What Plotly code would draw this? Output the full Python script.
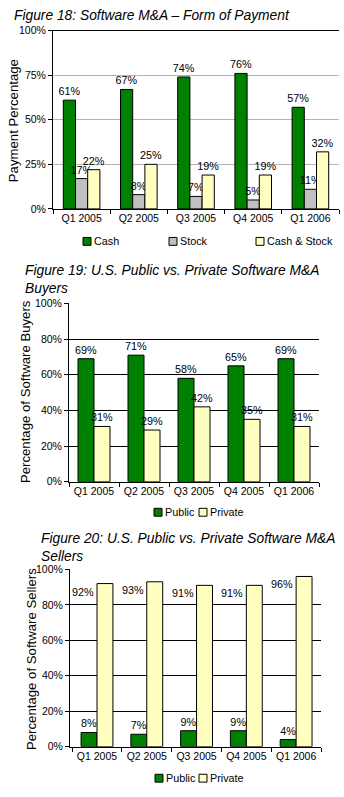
import plotly.graph_objects as go

W, H = 344, 797

# ---- data ----
quarters = ["Q1 2005", "Q2 2005", "Q3 2005", "Q4 2005", "Q1 2006"]

pay_names = ["Cash", "Stock", "Cash & Stock"]
pay_cash = [61, 67, 74, 76, 57]
pay_stock = [17, 8, 7, 5, 11]
pay_mixed = [22, 25, 19, 19, 32]

buy_names = ["Public", "Private"]
buy_public = [69, 71, 58, 65, 69]
buy_private = [31, 29, 42, 35, 31]

sell_names = ["Public", "Private"]
sell_public = [8, 7, 9, 9, 4]
sell_private = [92, 93, 91, 91, 96]

pay_ticks = [0, 25, 50, 75, 100]
share_ticks = [0, 20, 40, 60, 80, 100]

# ---- styles ----
GREEN = "#008000"
GRAY = "#c0c0c0"
YELLOW = "#ffffc0"
FONT = "Liberation Sans, Arial, sans-serif"
TXT = dict(family=FONT, size=10.8, color="black")
TICK = dict(family=FONT, size=10.5, color="black")
AXTITLE = dict(family=FONT, size=13.2, color="black")


def px_x(p):
    return p / W


def px_y(p):
    return 1 - p / H


fig = go.Figure()


def add_bars(values, name, color, xa, ya, text_outside=True):
    fig.add_trace(go.Bar(
        x=quarters, y=values, name=name,
        marker=dict(color=color, line=dict(color="black", width=1)),
        text=[f"{v}%" for v in values] if text_outside else None,
        textposition="outside", constraintext="none", cliponaxis=False,
        textfont=TXT, outsidetextfont=TXT,
        xaxis=xa, yaxis=ya, showlegend=False,
        hoverinfo="x+y+name",
    ))


# Figure 18
add_bars(pay_cash, pay_names[0], GREEN, "x", "y")
add_bars(pay_stock, pay_names[1], GRAY, "x", "y")
add_bars(pay_mixed, pay_names[2], YELLOW, "x", "y")
# Figure 19
add_bars(buy_public, buy_names[0], GREEN, "x2", "y2")
add_bars(buy_private, buy_names[1], YELLOW, "x2", "y2")
# Figure 20 (private labels sit to the left of each bar top)
add_bars(sell_public, sell_names[0], GREEN, "x3", "y3")
add_bars(sell_private, sell_names[1], YELLOW, "x3", "y3", text_outside=False)

annotations = []
for q, v in zip(quarters, sell_private):
    annotations.append(dict(
        x=q, y=v, xref="x3", yref="y3", text=f"{v}%", showarrow=False,
        xanchor="right", yanchor="top", xshift=-1, font=TXT,
    ))

# panel geometry in pixels: (left, right, top, bottom)
panels = [
    (53, 339, 25, 206),
    (69, 319, 302, 483),
    (70, 321, 572, 752),
]


def xaxis(p, y_anchor):
    l, r, t, b = p
    return dict(
        domain=[px_x(l), px_x(r)], anchor=y_anchor,
        showline=True, linecolor="black", linewidth=1,
        ticks="outside", tickson="boundaries", ticklen=4,
        tickcolor="black", tickfont=TICK, tickangle=0, showgrid=False,
        fixedrange=True,
    )


def yaxis(p, x_anchor, ticks, grid_color):
    l, r, t, b = p
    return dict(
        domain=[px_y(b), px_y(t)], anchor=x_anchor,
        range=[0, 100], tickmode="array", tickvals=ticks,
        ticktext=[f"{t}%" for t in ticks],
        showline=True, linecolor="black", linewidth=1,
        ticks="outside", ticklen=4, tickcolor="black", tickfont=TICK,
        showgrid=True, gridcolor=grid_color, gridwidth=1,
        zeroline=False, fixedrange=True,
    )


xa1 = xaxis(panels[0], "y")
xa1["mirror"] = True  # black frame line along the 100% level
fig.update_layout(
    xaxis=xa1,
    yaxis=yaxis(panels[0], "x", pay_ticks, "#b4b4b4"),
    xaxis2=xaxis(panels[1], "y2"),
    yaxis2=yaxis(panels[1], "x2", share_ticks, "black"),
    xaxis3=xaxis(panels[2], "y3"),
    yaxis3=yaxis(panels[2], "x3", share_ticks, "black"),
)

# vertical axis titles, placed beside each panel
axis_titles = [
    ("Payment Percentage", 13, 117),
    ("Percentage of Software Buyers", 25, 392),
    ("Percentage of Software Sellers", 31, 663),
]
for txt, x, y in axis_titles:
    annotations.append(dict(
        x=px_x(x), y=px_y(y), xref="paper", yref="paper", text=txt,
        showarrow=False, textangle=-90, xanchor="center", yanchor="middle",
        font=AXTITLE,
    ))

# titles
TITLE = dict(family=FONT, size=13.8, color="black")
titles = [
    ("<i>Figure 18: Software M&A – Form of Payment</i>", 12, 10),
    ("<i>Figure 19: U.S. Public vs. Private Software M&A<br>Buyers</i>", 23, 278),
    ("<i>Figure 20: U.S. Public vs. Private Software M&A<br>Sellers</i>", 39, 550),
]
for txt, x, y in titles:
    annotations.append(dict(
        x=px_x(x), y=px_y(y), xref="paper", yref="paper", text=txt,
        showarrow=False, xanchor="left", yanchor="middle", align="left",
        font=TITLE,
    ))

# legends: small bordered squares followed by the series name
shapes = []
legends = [
    (list(zip(pay_names, [GREEN, GRAY, YELLOW])), [83, 169, 256], 239),
    (list(zip(buy_names, [GREEN, YELLOW])), [154, 199], 514),
    (list(zip(sell_names, [GREEN, YELLOW])), [155, 199], 784),
]
for items, xs, yc in legends:
    for (name, color), x0 in zip(items, xs):
        shapes.append(dict(
            type="rect", xref="paper", yref="paper",
            x0=px_x(x0), x1=px_x(x0 + 8), y0=px_y(yc + 4), y1=px_y(yc - 4),
            fillcolor=color, line=dict(color="black", width=1),
        ))
        annotations.append(dict(
            x=px_x(x0 + 9), y=px_y(yc), xref="paper", yref="paper",
            text=name, showarrow=False, xanchor="left", yanchor="middle",
            font=TXT,
        ))

fig.update_layout(
    width=W, height=H,
    margin=dict(l=0, r=0, t=0, b=0),
    paper_bgcolor="white", plot_bgcolor="white",
    barmode="group", bargap=0.36,
    font=TXT, showlegend=False,
    annotations=annotations, shapes=shapes,
)

fig.write_html("out.html")
